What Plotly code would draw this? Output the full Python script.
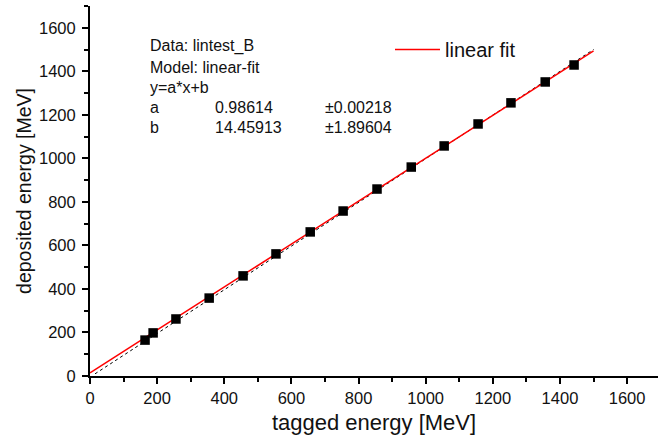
import plotly.graph_objects as go

# data points
tagged = [164, 188, 256, 355, 456, 554, 656, 754, 855, 957, 1055, 1156, 1254, 1356, 1442]
deposited = [165, 198, 262, 358, 460, 561, 662, 758, 859, 960, 1057, 1158, 1255, 1351, 1429]

# fit line end points (y = a*x + b)
fit_x = [0, 1500]
fit_y = [14.46, 1493.7]

# dotted reference line
ref_x = [15, 1500]
ref_y = [10, 1500]

info_lines = ["Data: lintest_B", "Model: linear-fit", "y=a*x+b"]
param_names = ["a", "b"]
param_values = ["0.98614", "14.45913"]
param_errors = ["\u00b10.00218", "\u00b11.89604"]

FONT = "Liberation Sans, Arial, sans-serif"
L, T, B, R = 90, 6, 62, 0
W, H = 658, 438
pw, ph = W - L - R, H - T - B

def px(x):
    return (x - L) / pw

def py(y):
    return (H - B - y) / ph

fig = go.Figure()
fig.add_trace(go.Scatter(x=ref_x, y=ref_y, mode="lines",
                         line=dict(color="black", width=1, dash="dot"),
                         showlegend=False, hoverinfo="skip"))
fig.add_trace(go.Scatter(x=fit_x, y=fit_y, mode="lines",
                         line=dict(color="red", width=1.5),
                         name="linear fit"))
fig.add_trace(go.Scatter(x=tagged, y=deposited, mode="markers",
                         marker=dict(symbol="square", size=9.5, color="black"),
                         showlegend=False))

ann = []
row_y = [46, 67, 88, 108, 128]
for i, t in enumerate(info_lines):
    ann.append(dict(x=px(148), y=py(row_y[i]), xref="paper", yref="paper",
                    text=t, showarrow=False, xanchor="left", yanchor="middle",
                    font=dict(size=16, color="#111", family=FONT)))
for j in range(2):
    yy = py(row_y[3 + j])
    for xx, t in [(148, param_names[j]), (213, param_values[j]), (323, param_errors[j])]:
        ann.append(dict(x=px(xx), y=yy, xref="paper", yref="paper",
                        text=t, showarrow=False, xanchor="left", yanchor="middle",
                        font=dict(size=16, color="#111", family=FONT)))

axis_common = dict(
    showline=True, linecolor="black", linewidth=2,
    ticks="outside", ticklen=6, tickwidth=1.5, tickcolor="black",
    showgrid=False, zeroline=False, dtick=200,
    tickfont=dict(size=16.5, color="#111", family=FONT),
    minor=dict(dtick=100, ticks="outside", ticklen=4, tickwidth=1.5, tickcolor="black"),
)

fig.update_layout(
    width=W, height=H,
    margin=dict(l=L, r=R, t=T, b=B),
    paper_bgcolor="white", plot_bgcolor="white",
    font=dict(family=FONT, color="#111"),
    xaxis=dict(range=[0, 1692], title=dict(text="tagged energy [MeV]",
               font=dict(size=22, family=FONT), standoff=9), **axis_common),
    yaxis=dict(range=[0, 1700], title=dict(text="deposited energy [MeV]",
               font=dict(size=19.5, family=FONT), standoff=2),
               ticklabelstandoff=3, **axis_common),
    legend=dict(x=px(390), y=py(30), xanchor="left", yanchor="top", itemwidth=45,
                bgcolor="rgba(0,0,0,0)", font=dict(size=20, family=FONT, color="#111")),
    annotations=ann,
)

fig.write_html("out.html")
